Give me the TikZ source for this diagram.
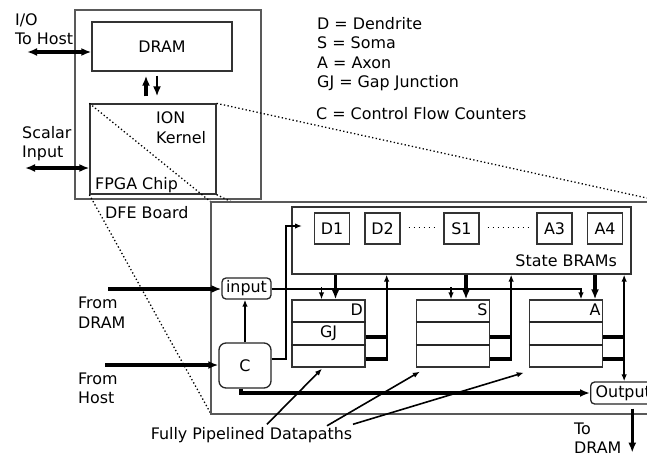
\documentclass[tikz,border=0pt]{standalone}
\usepackage{fontspec}
\setmainfont{DejaVu Sans}
\usetikzlibrary{arrows.meta,calc,positioning}

\tikzset{
  box/.style={draw=black!80, line width=1.3pt, inner sep=0pt},
  portbox/.style={draw=black!85, line width=1.3pt, rounded corners=4pt, inner sep=0pt},
  thickline/.style={line width=3.3pt},
  medline/.style={line width=2pt},
  thinline/.style={line width=1.3pt},
  bigtip/.style={-{Latex[length=10pt,width=8pt]}},
  bigtips/.style={{Latex[length=10pt,width=8pt]}-{Latex[length=10pt,width=8pt]}},
  smalltip/.style={-{Latex[length=7pt,width=5.5pt]}},
  smalltips/.style={{Latex[length=7pt,width=5.5pt]}-{Latex[length=7pt,width=5.5pt]}},
  zoomline/.style={line width=1.3pt, dash pattern=on 1.3pt off 2.4pt},
  celldots/.style={line width=1.4pt, dash pattern=on 1.4pt off 3.6pt},
  lbl/.style={inner sep=0pt, align=left},
}

\begin{document}
\begin{tikzpicture}[x=1pt, y=-1pt, font=\fontsize{15.9}{19.5}\selectfont]
  \useasboundingbox (0,0) rectangle (647,453);
  \clip (0,0) rectangle (647,453);

  % Draw board, DRAM and FPGA
  \node[box, draw=black!65, minimum width=186pt, minimum height=189pt] (board) at (168,104.5) {};
  \node[box, minimum width=140pt, minimum height=49pt] (dram) at (162,46.5) {DRAM};
  \node[box, minimum width=126pt, minimum height=90pt] (fpga) at (153,149) {};

  % Label board
  \node[lbl, anchor=north west] (ion) at (156,111.5) {ION\\Kernel};
  \node[lbl, anchor=north west] (fpgalabel) at (95,177.5) {FPGA Chip};
  \node[lbl, anchor=north west] (boardlabel) at (105,206) {DFE Board};
  \node[lbl, anchor=north west] (iolabel) at (15,13) {I/O\\To Host};
  \node[lbl, anchor=north west] (scalarlabel) at (22,126) {Scalar\\Input};

  % Legend
  \node[lbl, anchor=north west] (legend) at (317,17) {D = Dendrite\\S = Soma\\A = Axon\\GJ = Gap Junction};
  \node[lbl, anchor=north west] (legendc) at (316,107) {C = Control Flow Counters};

  % Define points
  \coordinate (iohost) at (27,52);
  \coordinate (scalarin) at (25,168);
  \coordinate (up) at (146,0);
  \coordinate (down) at (157,0);

  \draw[thickline, bigtips] (iohost) -- (iohost -| dram.west);
  \draw[thickline, bigtips] (scalarin) -- (scalarin -| fpga.west);
  \draw[thickline, bigtip, shorten <=7pt, shorten >=4pt] (up |- fpga.north) -- (up |- dram.south);
  \draw[medline, bigtip, shorten <=4pt, shorten >=7pt] (down |- dram.south) -- (down |- fpga.north);

  % Zoom lines from the FPGA chip to the kernel
  \coordinate (chipnw) at (211,202);
  \coordinate (chipse) at (665,414);
  \draw[zoomline] (fpga.north west) -- (chipnw);
  \draw[zoomline] (fpga.north east) -- (chipse |- chipnw);
  \draw[zoomline] (fpga.south west) -- (chipnw |- chipse);
  \draw[zoomline] (fpga.south east) -- (chipse);
  \node[box, draw=black!65, fill=white, minimum width=454pt, minimum height=212pt] (chip) at ($(chipnw)!0.5!(chipse)$) {};

  % State BRAMs
  \node[box, minimum width=339pt, minimum height=67pt] (brams) at (461.5,240.5) {};
  \node[lbl, anchor=north east] (bramlabel) at (617,254) {State BRAMs};
  \foreach \cell/\x in {D1/332, D2/382.5, S1/461.5, A3/554.5, A4/605}
    \node[box, minimum width=35pt, minimum height=31pt] (\cell) at (\x,228.5) {\cell};
  \draw[celldots] ($(D2.east)+(8,-1)$) -- ($(S1.west)+(-9,-1)$);
  \draw[celldots] ($(S1.east)+(8,-1)$) -- ($(A3.west)+(-6,-1)$);

  % Datapaths
  \foreach \p/\x in {D/328.5, S/453, A/566} {
    \node[box, minimum width=73pt, minimum height=67pt] (\p) at (\x,333.5) {};
    \node[anchor=north east, inner xsep=2.5pt, inner ysep=4.5pt] (\p-label) at (\p.north east) {\p};
    \foreach \f in {0.333, 0.667}
      \draw[thinline, black!85] ($(\p.north west)!\f!(\p.south west)$) -- ($(\p.north east)!\f!(\p.south east)$);
  }
  \node (gj) at (D) {GJ};

  % Ports
  \node[portbox, minimum width=49pt, minimum height=21pt] (input) at (246.5,288.5) {input};
  \node[portbox, rounded corners=7pt, minimum width=52pt, minimum height=45pt] (ctrl) at (245,365.5) {C};
  \node[portbox, anchor=west, minimum height=22pt, inner xsep=5pt] (output) at (590,393) {Output};

  % Inputs from DRAM and host
  \coordinate (fromdram) at (108,289);
  \coordinate (fromhost) at (105,365);
  \draw[thickline, bigtip] (fromdram) -- (fromdram -| input.west);
  \draw[thickline, bigtip] (fromhost) -- (fromhost -| ctrl.west);
  \node[lbl, anchor=north west] (dramlabel) at (78,297) {From\\DRAM};
  \node[lbl, anchor=north west] (hostlabel) at (78,372.5) {From\\Host};

  % Counters
  \draw[medline, smalltip] (ctrl.north) -- (ctrl.north |- input.south);
  \coordinate (ctrlup) at (286,226);
  \draw[medline, smalltip] ($(ctrl.east)+(0,-6.5)$) -| (ctrlup) -- ++(16,0);
  \draw[thickline, bigtip] ($(ctrl.south)+(-4,0)$) |- (output.west);

  % Input feeds the datapaths
  \draw[medline, smalltip] (input.east) -| ($(A.north)+(15,0)$);
  \foreach \p/\dx in {D/-7, S/-2}
    \draw[thinline, smalltip] ($(\p.north)+(\dx,-12)$) -- ($(\p.north)+(\dx,0)$);

  % State reads and write-backs
  \foreach \p/\dx in {D/7, S/13, A/29} {
    \coordinate (\p-rd) at ($(\p.north)+(\dx,0)$);
    \draw[thickline, bigtip] (\p-rd |- brams.south) -- (\p-rd);
    \coordinate (\p-bus) at ($(\p.east)+(21,25.5)$);
    \draw[thickline] ($(\p.east)+(0,3.5)$) -- ++(22,0);
    \draw[thickline] ($(\p.east)+(0,25.5)$) -- ++(22,0);
  }
  \foreach \p in {D, S}
    \draw[medline, smalltip] (\p-bus) -- (\p-bus |- brams.south);
  \draw[medline, smalltips] (A-bus |- brams.south) -- (A-bus |- output.north);

  % Output to DRAM
  \draw[thickline, bigtip, shorten <=4pt] ($(output.south)+(9,0)$) -- ++(0,48);
  \node[lbl, anchor=north west] (todram) at (574,422.5) {To\\DRAM};

  % Datapath pointers
  \node (pipes) at (251.5,435.5) {Fully Pipelined Datapaths};
  \draw[line width=1.6pt, smalltip] ($(pipes.north)+(15.5,0)$) -- ($(D.south)+(-6.5,1)$);
  \draw[line width=1.6pt, smalltip] ($(pipes.north)+(75.5,1.5)$) -- ($(S.south west)+(4,4)$);
  \draw[line width=1.6pt, smalltip] ($(pipes.north)+(101.5,0)$) -- ($(A.south west)+(-5,5)$);
\end{tikzpicture}
\end{document}
